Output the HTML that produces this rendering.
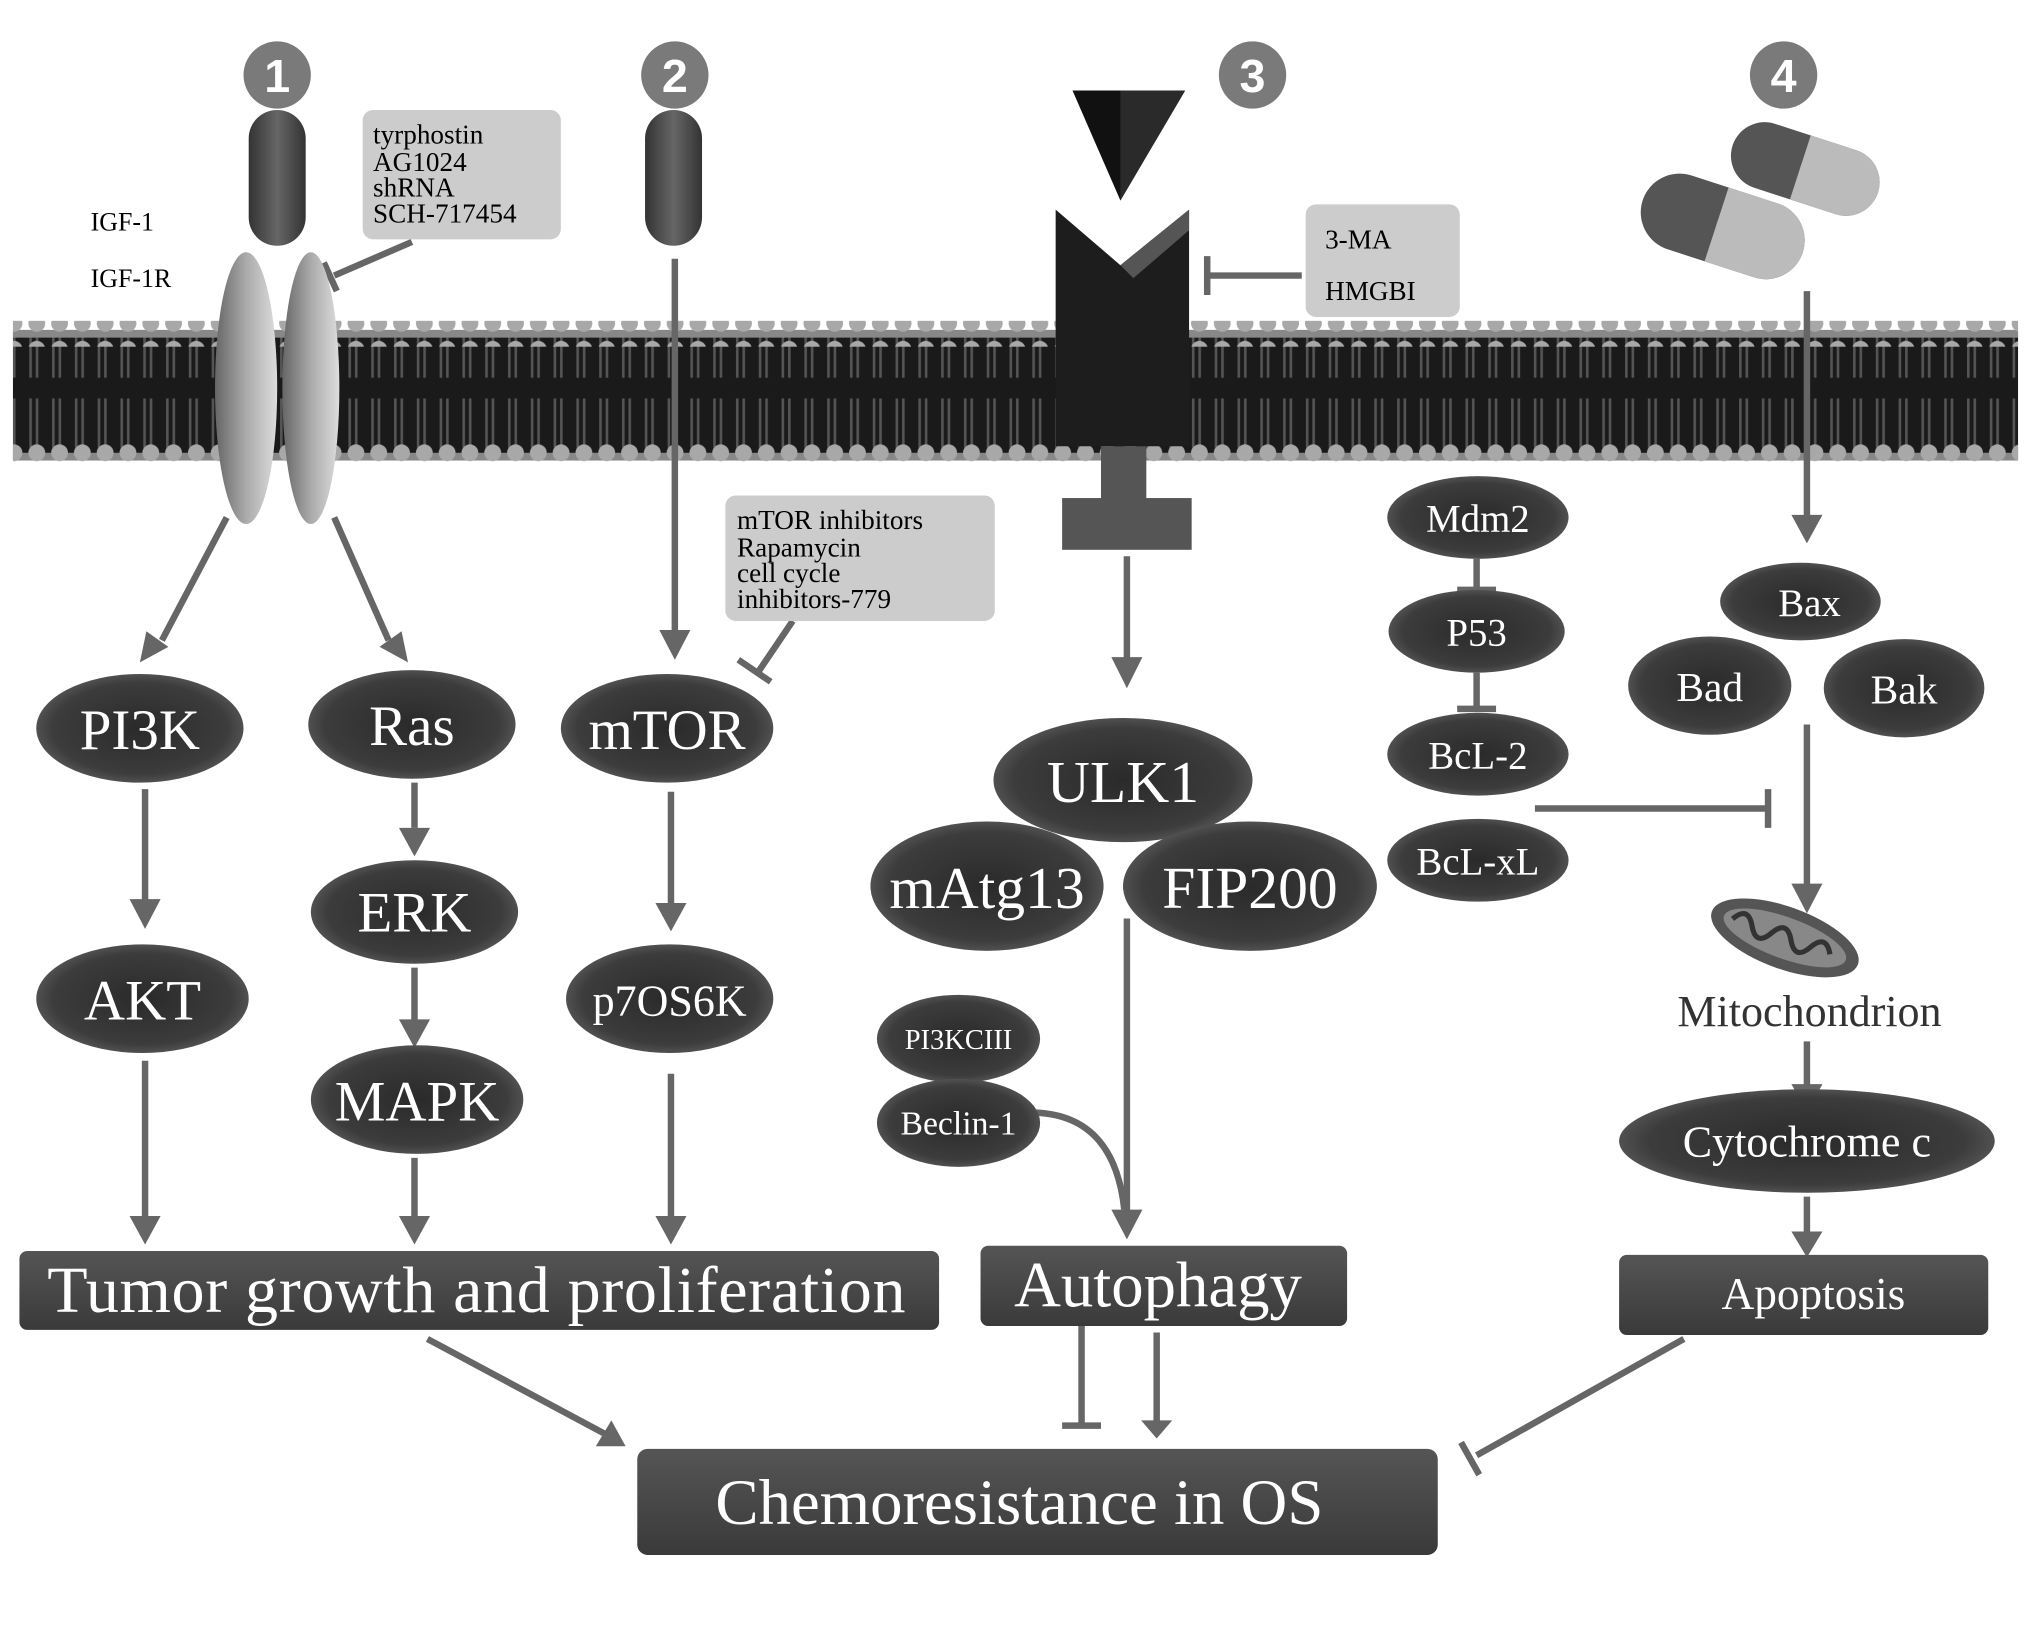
<!DOCTYPE html>
<html><head><meta charset="utf-8"><style>
html,body{margin:0;padding:0;background:#fff;}
svg{display:block;}
text{font-family:"Liberation Serif",serif;}
</style></head><body>
<svg width="2031" height="1630" viewBox="0 0 1568 1260" preserveAspectRatio="none" xmlns="http://www.w3.org/2000/svg">
<defs>
<radialGradient id="eg" cx="50%" cy="50%" r="60%"><stop offset="0" stop-color="#2a2a2a"/><stop offset="0.7" stop-color="#3c3c3c"/><stop offset="1" stop-color="#6a6a6a"/></radialGradient>
<linearGradient id="bx" x1="0" y1="0" x2="0" y2="1"><stop offset="0" stop-color="#555"/><stop offset="1" stop-color="#3a3a3a"/></linearGradient>
<linearGradient id="rc" x1="0" y1="0" x2="1" y2="0"><stop offset="0" stop-color="#666"/><stop offset="0.5" stop-color="#aaa"/><stop offset="1" stop-color="#ddd"/></linearGradient>
<linearGradient id="cap" x1="0" y1="0" x2="1" y2="0"><stop offset="0" stop-color="#333"/><stop offset="0.5" stop-color="#666"/><stop offset="1" stop-color="#333"/></linearGradient>
<pattern id="lip" x="0" y="0" width="17.6" height="100" patternUnits="userSpaceOnUse">
<rect width="17.6" height="100" fill="#1a1a1a"/>
<path d="M6 8 v38 M11 8 v38 M6 54 v38 M11 54 v38" stroke="#555" stroke-width="2"/>
</pattern>
<pattern id="dots" x="2" y="0" width="17.6" height="20" patternUnits="userSpaceOnUse"><circle cx="8.8" cy="10" r="6.5" fill="#a8a8a8"/></pattern>
</defs>
<rect width="1568" height="1260" fill="#fff"/>
<rect x="10" y="257" width="1548" height="98" fill="url(#lip)"/>
<rect x="10" y="255" width="1548" height="6" fill="#888"/>
<rect x="10" y="350" width="1548" height="6" fill="#888"/>
<rect x="10" y="248" width="1548" height="20" fill="url(#dots)"/>
<rect x="10" y="343" width="1548" height="20" fill="url(#dots)"/>

<g stroke="#666" stroke-width="5" fill="none" stroke-linecap="butt">
<path d="M175 400 L125 495"/>
<path d="M258 400 L300 495"/>
<path d="M112 610 V700"/><path d="M320 605 V640"/><path d="M320 748 V790"/>
<path d="M521 200 V490"/><path d="M518 612 V700"/>
<path d="M112 820 V945"/><path d="M320 895 V945"/><path d="M518 830 V945"/>
<path d="M870 430 V510"/><path d="M870 710 V940"/>
<path d="M1395 225 V400"/><path d="M1395 560 V685"/><path d="M1395 805 V840"/><path d="M1395 925 V955"/>
<path d="M835 1025 V1100"/><path d="M893 1030 V1100"/>
<path d="M330 1035 L470 1110"/>
<path d="M1300 1035 L1140 1125"/>
<path d="M1185 625 H1365"/>
<path d="M1140 432 V456"/><path d="M1140 520 V548"/>
<path d="M318 187 L258 213"/><path d="M1005 213 H932"/><path d="M612 480 L585 520"/>
<path d="M795 860 Q860 860 868 935"/>
</g>
<g stroke="#666" stroke-width="5">
<line x1="250" y1="203" x2="260" y2="225"/><line x1="932" y1="198" x2="932" y2="228"/><line x1="570" y1="510" x2="595" y2="527"/>
<line x1="1365" y1="610" x2="1365" y2="640"/><line x1="1125" y1="456" x2="1155" y2="456"/><line x1="1125" y1="548" x2="1155" y2="548"/>
<line x1="820" y1="1102" x2="850" y2="1102"/><line x1="1128" y1="1115" x2="1142" y2="1140"/>
</g>
<g fill="#666">
<path d="M108 512 L113 488 L130 500 Z"/>
<path d="M315 512 L293 500 L310 488 Z"/>
<path d="M100 695 H124 L112 718 Z"/><path d="M308 640 H332 L320 662 Z"/><path d="M308 788 H332 L320 810 Z"/>
<path d="M509 487 H533 L521 510 Z"/><path d="M506 698 H530 L518 720 Z"/>
<path d="M100 940 H124 L112 962 Z"/><path d="M308 940 H332 L320 962 Z"/><path d="M506 940 H530 L518 962 Z"/>
<path d="M858 508 H882 L870 532 Z"/><path d="M858 935 H882 L870 958 Z"/>
<path d="M1383 398 H1407 L1395 420 Z"/><path d="M1383 683 H1407 L1395 706 Z"/><path d="M1383 838 H1407 L1395 860 Z"/><path d="M1383 952 H1407 L1395 972 Z"/>
<path d="M881 1098 H905 L893 1112 Z"/>
<path d="M483 1118 L460 1118 L472 1098 Z"/>
</g>

<g fill="#7a7a7a"><circle cx="214" cy="58" r="26"/><circle cx="521" cy="58" r="26"/><circle cx="967" cy="58" r="26"/><circle cx="1377" cy="58" r="26"/></g>
<g fill="#fff" font-size="36" text-anchor="middle" font-weight="bold"><text x="214" y="71" style="font-family:'Liberation Sans',sans-serif">1</text><text x="521" y="71" style="font-family:'Liberation Sans',sans-serif">2</text><text x="967" y="71" style="font-family:'Liberation Sans',sans-serif">3</text><text x="1377" y="71" style="font-family:'Liberation Sans',sans-serif">4</text></g>

<rect x="192" y="85" width="44" height="105" rx="22" fill="url(#cap)"/>
<rect x="498" y="85" width="44" height="105" rx="22" fill="url(#cap)"/>
<ellipse cx="190" cy="300" rx="24" ry="105" fill="url(#rc)"/>
<ellipse cx="240" cy="300" rx="22" ry="105" fill="url(#rc)"/>
<text x="70" y="178" font-size="20">IGF-1</text><text x="70" y="222" font-size="20">IGF-1R</text>
<rect x="280" y="85" width="153" height="100" rx="8" fill="#ccc"/>
<g font-size="21"><text x="288" y="111">tyrphostin</text><text x="288" y="132">AG1024</text><text x="288" y="152">shRNA</text><text x="288" y="172">SCH-717454</text></g>
<rect x="560" y="383" width="208" height="97" rx="8" fill="#ccc"/>
<g font-size="21"><text x="569" y="409">mTOR inhibitors</text><text x="569" y="430">Rapamycin</text><text x="569" y="450">cell cycle</text><text x="569" y="470">inhibitors-779</text></g>

<path d="M828 70 L915 70 L865 155 Z" fill="#111"/>
<path d="M865 70 L915 70 L865 155 Z" fill="#2a2a2a"/>
<path d="M815 162 L865 205 L918 162 V345 H815 Z" fill="#1d1d1d"/>
<path d="M865 205 L918 162 V178 L875 215 Z" fill="#555"/>
<rect x="850" y="345" width="35" height="42" fill="#555"/>
<rect x="820" y="385" width="100" height="40" fill="#555"/>
<rect x="1008" y="158" width="119" height="87" rx="8" fill="#ccc"/>
<text x="1023" y="192" font-size="21">3-MA</text><text x="1023" y="232" font-size="21">HMGBI</text>

<g transform="rotate(18 1330 175)"><rect x="1265" y="145" width="130" height="60" rx="30" fill="#555"/><rect x="1325" y="145" width="70" height="60" rx="30" fill="#bbb"/><rect x="1325" y="145" width="30" height="60" fill="#bbb"/></g>
<g transform="rotate(18 1395 130)"><rect x="1335" y="105" width="118" height="52" rx="26" fill="#555"/><rect x="1390" y="105" width="63" height="52" rx="26" fill="#bbb"/><rect x="1390" y="105" width="28" height="52" fill="#bbb"/></g>

<g fill="url(#eg)">
<ellipse cx="108" cy="563" rx="80" ry="42"/><ellipse cx="318" cy="560" rx="80" ry="42"/><ellipse cx="515" cy="563" rx="82" ry="42"/>
<ellipse cx="110" cy="772" rx="82" ry="42"/><ellipse cx="320" cy="705" rx="80" ry="40"/><ellipse cx="322" cy="850" rx="82" ry="42"/><ellipse cx="517" cy="772" rx="80" ry="42"/>
<ellipse cx="867" cy="603" rx="100" ry="48"/><ellipse cx="762" cy="685" rx="90" ry="50"/><ellipse cx="965" cy="685" rx="98" ry="50"/>
<ellipse cx="740" cy="803" rx="63" ry="34"/><ellipse cx="740" cy="868" rx="63" ry="34"/>
<ellipse cx="1141" cy="400" rx="70" ry="32"/><ellipse cx="1140" cy="488" rx="68" ry="32"/><ellipse cx="1141" cy="583" rx="70" ry="32"/><ellipse cx="1141" cy="665" rx="70" ry="32"/>
<ellipse cx="1390" cy="465" rx="62" ry="30"/><ellipse cx="1320" cy="530" rx="63" ry="38"/><ellipse cx="1470" cy="532" rx="62" ry="38"/>
<ellipse cx="1395" cy="882" rx="145" ry="40"/>
</g>
<g transform="rotate(20 1378 725)"><ellipse cx="1378" cy="725" rx="60" ry="24" fill="#555"/><ellipse cx="1378" cy="725" rx="50" ry="16" fill="#888"/><path d="M1335 725 q8 -14 16 0 q8 14 16 0 q8 -14 16 0 q8 14 16 0 q8 -14 16 0" stroke="#333" stroke-width="4" fill="none"/></g>
<text x="1397" y="793" font-size="34" text-anchor="middle" fill="#333">Mitochondrion</text>

<g fill="url(#bx)">
<rect x="15" y="967" width="710" height="61" rx="6"/><rect x="757" y="963" width="283" height="62" rx="6"/><rect x="1250" y="970" width="285" height="62" rx="6"/><rect x="492" y="1120" width="618" height="82" rx="8"/>
</g>

<g fill="#fff" text-anchor="middle">
<text x="108" y="579" font-size="44">PI3K</text><text x="318" y="576" font-size="44">Ras</text><text x="515" y="579" font-size="44">mTOR</text>
<text x="110" y="788" font-size="44">AKT</text><text x="320" y="720" font-size="44">ERK</text><text x="322" y="866" font-size="44">MAPK</text><text x="517" y="785" font-size="34">p7OS6K</text>
<text x="867" y="620" font-size="46">ULK1</text><text x="762" y="702" font-size="46">mAtg13</text><text x="965" y="702" font-size="46">FIP200</text>
<text x="740" y="811" font-size="22">PI3KCIII</text><text x="740" y="877" font-size="26">Beclin-1</text>
<text x="1141" y="411" font-size="30">Mdm2</text><text x="1140" y="499" font-size="30">P53</text><text x="1141" y="594" font-size="30">BcL-2</text><text x="1141" y="676" font-size="30">BcL-xL</text>
<text x="1397" y="476" font-size="30">Bax</text><text x="1320" y="542" font-size="32">Bad</text><text x="1470" y="544" font-size="32">Bak</text>
<text x="1395" y="894" font-size="34">Cytochrome c</text>
<text x="368" y="1014" font-size="51" letter-spacing="0.5">Tumor  growth and proliferation</text>
<text x="894" y="1010" font-size="50">Autophagy</text>
<text x="1400" y="1012" font-size="35">Apoptosis</text>
<text x="787" y="1178" font-size="50">Chemoresistance in OS</text>
</g>
</svg>
</body></html>
